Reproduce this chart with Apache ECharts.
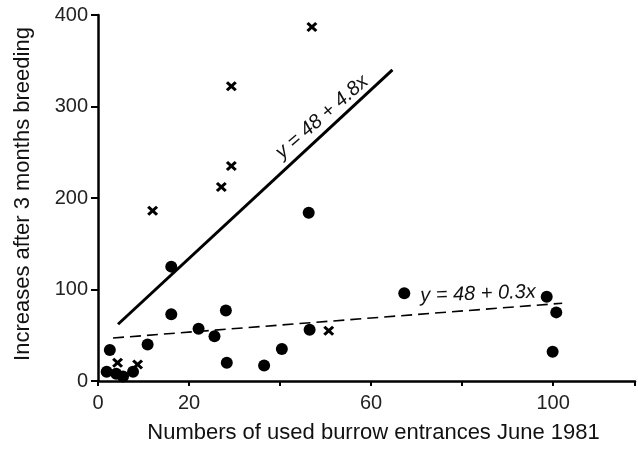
<!DOCTYPE html>
<html><head><meta charset="utf-8">
<script src="https://cdn.jsdelivr.net/npm/echarts@6/dist/echarts.min.js"></script>
<style>html,body{margin:0;padding:0;background:#fff}#c{width:638px;height:449px}</style>
</head><body><div id="c"></div>
<script>
// Circles (burrow data)
const dotX = [1.9, 4.0, 5.5, 7.7, 2.6, 10.9, 16.1, 16.1, 22.1, 25.6, 28.1, 28.3, 36.5, 40.4, 46.5, 46.3, 67.3, 98.6, 100.7, 99.9];
const dotY = [10, 8, 5, 10, 34, 40, 125, 73, 57, 49, 77, 20, 17, 35, 56, 184, 96, 92, 75, 32];
// Crosses
const crossX = [47.0, 29.3, 29.3, 27.1, 12.0, 50.7, 4.3, 8.7];
const crossY = [387, 322, 235, 212, 186, 55, 20, 18];
// Regression lines (drawn endpoints)
const solidX = [4.4, 64.7];
const solidY = [62, 340];
const dashX = [3.3, 102];
const dashY = [47, 85];
// Axis tick labels
const xTickLabels = ['0', '20', '', '60', '', '100'];
const yTickLabels = ['0', '100', '200', '300', '400'];
const xTitle = 'Numbers of used burrow entrances June 1981';
const yTitle = 'Increases after 3 months breeding';
const eq1 = 'y = 48 + 4.8x';
const eq2 = 'y = 48 + 0.3x';

const zip = (a, b) => a.map((v, i) => [v, b[i]]);
const FONT = 'Liberation Sans';
const crossPath = 'path://M0,2L2,0L5,3L8,0L10,2L7,5L10,8L8,10L5,7L2,10L0,8L3,5Z';

const chart = echarts.init(document.getElementById('c'), null, {renderer: 'canvas'});
chart.setOption({
  animation: false,
  backgroundColor: '#fff',
  grid: {left: 98, right: 0, top: 15, bottom: 67.5, containLabel: false},
  xAxis: {
    type: 'value', min: 0, max: 118, interval: 20,
    name: xTitle, nameLocation: 'middle', nameGap: 41,
    nameTextStyle: {fontFamily: FONT, fontSize: 22, color: '#111', padding: [0, 0, 0, 14]},
    axisLine: {show: true, onZero: false, lineStyle: {color: '#000', width: 2.5}},
    axisTick: {show: true, length: 5, lineStyle: {color: '#000', width: 2}},
    axisLabel: {fontFamily: FONT, fontSize: 20, color: '#222', margin: 12,
      formatter: v => { const i = Math.round(v / 20); return xTickLabels[i] !== undefined ? xTickLabels[i] : ''; }},
    splitLine: {show: false}
  },
  yAxis: {
    type: 'value', min: 0, max: 400, interval: 100,
    name: yTitle, nameLocation: 'middle', nameGap: 64, nameRotate: 90,
    nameTextStyle: {fontFamily: FONT, fontSize: 22, color: '#111', padding: [0, 0, 0, 8]},
    axisLine: {show: true, onZero: false, lineStyle: {color: '#000', width: 2.5}},
    axisTick: {show: true, length: 7, lineStyle: {color: '#000', width: 2}},
    axisLabel: {fontFamily: FONT, fontSize: 20, color: '#222', margin: 10,
      formatter: v => { const i = Math.round(v / 100); return yTickLabels[i] !== undefined ? yTickLabels[i] : ''; }},
    splitLine: {show: false}
  },
  series: [
    {type: 'line', data: zip(solidX, solidY), symbol: 'none', silent: true,
      lineStyle: {color: '#000', width: 3}, z: 3},
    {type: 'line', data: zip(dashX, dashY), symbol: 'none', silent: true,
      lineStyle: {color: '#000', width: 1.6, type: [11, 6]}, z: 3},
    {type: 'scatter', data: zip(dotX, dotY), symbol: 'circle', symbolSize: 12,
      itemStyle: {color: '#000', opacity: 1}, z: 4},
    {type: 'scatter', data: zip(crossX, crossY), symbol: crossPath, symbolSize: [11, 10],
      itemStyle: {color: '#000', opacity: 1}, z: 4}
  ],
  graphic: [
    {type: 'text', x: 322, y: 117, rotation: 41 * Math.PI / 180,
      style: {text: eq1, font: 'italic 20px "Liberation Sans"', fill: '#111', align: 'center', verticalAlign: 'middle'}},
    {type: 'text', x: 478, y: 294, rotation: 2 * Math.PI / 180,
      style: {text: eq2, font: 'italic 20px "Liberation Sans"', fill: '#111', align: 'center', verticalAlign: 'middle'}}
  ]
});
</script></body></html>
